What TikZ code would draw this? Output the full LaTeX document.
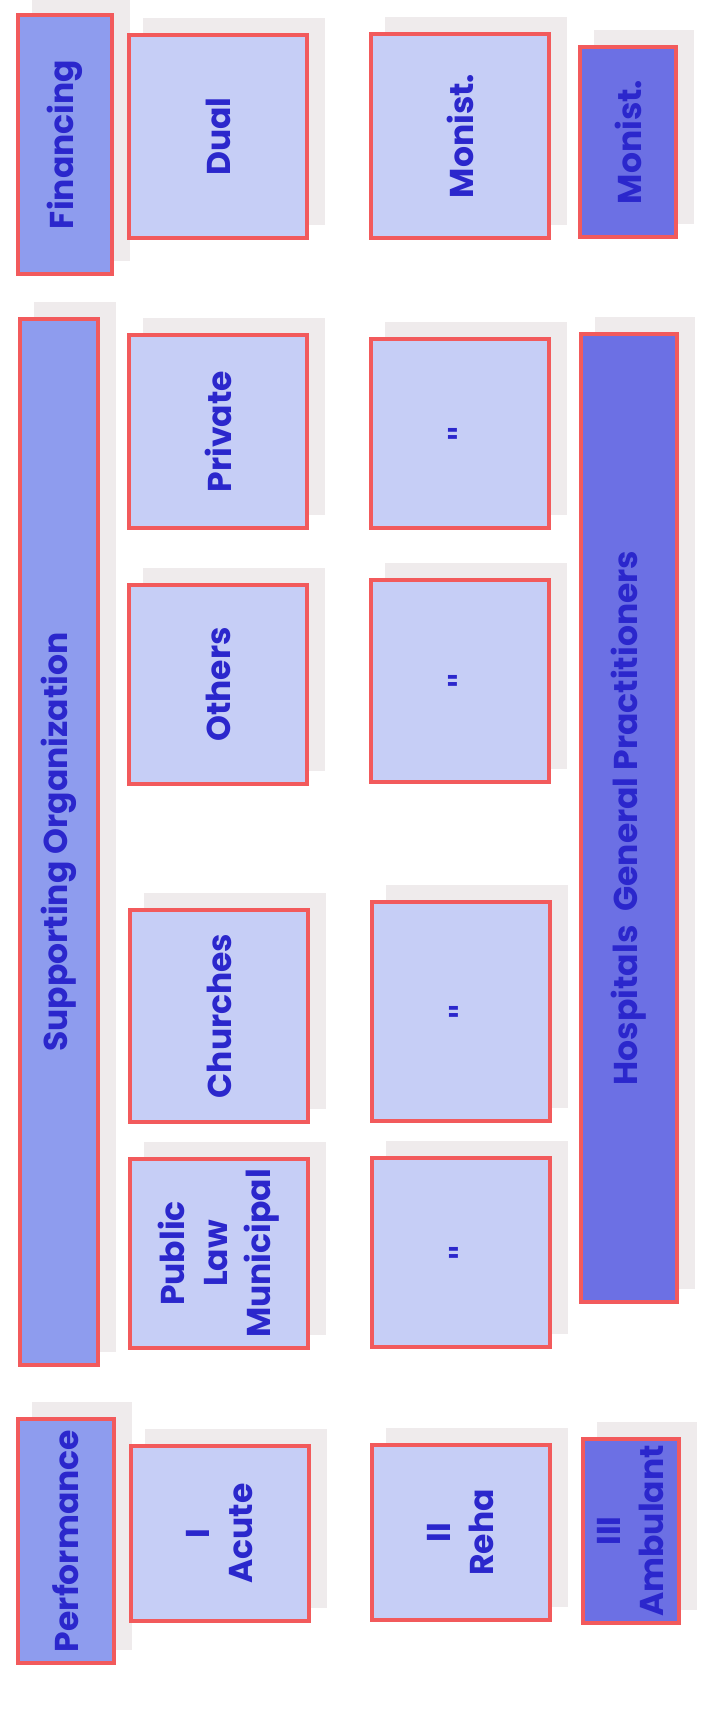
\documentclass[tikz,border=0pt]{standalone}
\usepackage{fontspec}
\setmainfont{Poppins}
\newfontfamily\dittofont{DejaVu Sans}
\usepackage{tikz}
\usetikzlibrary{positioning}
\usetikzlibrary{backgrounds}
\definecolor{boxred}{HTML}{F25A5C}
\definecolor{lightfill}{HTML}{C6CEF6}
\definecolor{midfill}{HTML}{8E9CEE}
\definecolor{darkfill}{HTML}{6C70E4}
\definecolor{labelblue}{HTML}{2B27CC}
\definecolor{stipple}{HTML}{EFEBEC}

\begin{document}
\begin{tikzpicture}[x=1pt,y=-1pt,
    cellbox/.style={draw=boxred, line width=4pt, rotate=90, inner sep=0pt, align=center,
      text=labelblue, font=\bfseries\fontsize{33}{43}\selectfont},
    headbox/.style={cellbox, fill=midfill},
    entrybox/.style={cellbox, fill=lightfill, minimum height=178pt},
    darkbox/.style={cellbox, fill=darkfill, minimum height=96pt}]

      \useasboundingbox (0,0) rectangle (701,1710);

      % headings
      \node[headbox, minimum width=259pt, minimum height=94pt] (financing) at (65,144.5) {Financing};
      \node[headbox, minimum width=1046pt, minimum height=78pt] (supporting) at (59,842) {Supporting Organization};
      \node[headbox, minimum width=244pt, minimum height=96pt] (performance) at (66,1541) {Performance};

      % second column
      \node[entrybox, minimum width=203pt] (dual) at (218,136.5) {Dual};
      \node[entrybox, minimum width=193pt] (private) at (218,431.5) {Private};
      \node[entrybox, minimum width=199pt] (others) at (218,684.5) {Others};
      \node[entrybox, minimum width=212pt] (churches) at (219,1016) {Churches};
      \node[entrybox, minimum width=189pt] (public) at (219,1253.5) {Public\\Law\\Municipal};
      \node[entrybox, minimum width=175pt] (acute) at (220,1533.5) {I\\Acute};

      % third column
      \node[entrybox, minimum width=204pt] (monist) at (460,136) {Monist.};
      \node[entrybox, minimum width=189pt] (dittoa) at (460,433.5) {\dittofont"};
      \node[entrybox, minimum width=202pt] (dittob) at (460,681) {\dittofont"};
      \node[entrybox, minimum width=219pt] (dittoc) at (461,1011.5) {\dittofont"};
      \node[entrybox, minimum width=189pt] (dittod) at (461,1252.5) {\dittofont"};
      \node[entrybox, minimum width=175pt] (reha) at (461,1532.5) {II\\Reha};

      % fourth column
      \node[darkbox, minimum width=190pt] (monistb) at (628,142) {Monist.};
      \node[darkbox, minimum width=968pt] (hospitals) at (629,818) {Hospitals\ \ General Practitioners};
      \node[darkbox, minimum width=184pt] (ambulant) at (631,1531) {III\\Ambulant};

      \begin{scope}[on background layer]
        \foreach \n in {financing,supporting,performance,dual,private,others,churches,public,acute,
                        monist,dittoa,dittob,dittoc,dittod,reha,monistb,hospitals,ambulant}
          \fill[stipple] ([shift={(16,-15)}]\n.south west) rectangle ([shift={(16,-15)}]\n.north east);
      \end{scope}
    \end{tikzpicture}
\end{document}
